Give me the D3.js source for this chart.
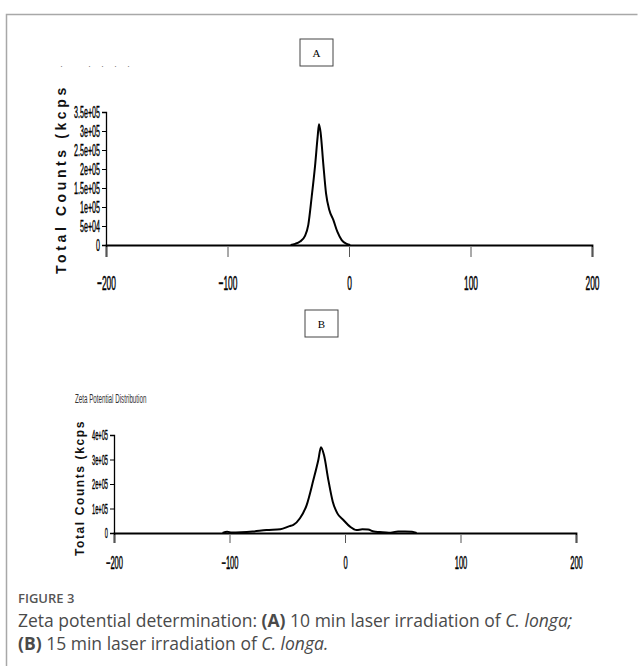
<!DOCTYPE html>
<html><head><meta charset="utf-8">
<script src="https://cdn.jsdelivr.net/npm/d3@7/dist/d3.min.js"></script>
<style>
body{margin:0;background:#fff;}
svg{display:block;}
</style></head>
<body><svg id="c" width="643" height="666"></svg>
<script>
// ---- data ----
const xTicks = [-200, -100, 0, 100, 200];
const yTicksA = [0, 50000, 100000, 150000, 200000, 250000, 300000, 350000];
const yTickLabelsA = ["0","5e+04","1e+05","1.5e+05","2e+05","2.5e+05","3e+05","3.5e+05"];
const yTicksB = [0, 100000, 200000, 300000, 400000];
const yTickLabelsB = ["0","1e+05","2e+05","3e+05","4e+05"];
// Panel A: zeta potential (mV) vs total counts
const zetaA   = [-48, -44.4, -40.3, -36.2, -33.5, -30.7, -28, -25.8, -24.7, -23.3, -21.2, -18.9, -16.2, -12.9, -9.6, -6.0, -1.9, 1];
const countsA = [0, 3000, 9000, 24000, 53000, 127000, 206000, 285000, 318000, 294000, 215000, 136000, 92000, 66000, 35000, 13000, 3000, 0];
// Panel B
const zetaB   = [-106, -102, -98, -90, -80, -68, -56, -48, -44.7, -39, -33.2, -27.4, -23.1, -20.8, -18.2, -14.4, -10.6, -6.6, -1.4, 4.3, 10.1, 15, 20, 25, 30, 38, 46, 52, 58, 62];
const countsB = [0, 5000, 2000, 3000, 6000, 12000, 15000, 28000, 33000, 60000, 114000, 216000, 298000, 350000, 318000, 216000, 128000, 80000, 53000, 26000, 12000, 15000, 14000, 6000, 4000, 1000, 6000, 6000, 5000, 0];
const labelA = "A", labelB = "B";
const yTitle = "Total Counts (kcps";
const titleB = "Zeta Potential Distribution";
const figLabel = "FIGURE 3";

const svg = d3.select("#c");

// frame
svg.append("path").attr("d","M6.5,666 V14.5 H637.5").attr("fill","none").attr("stroke","#a8a8a8").attr("stroke-width",1.5);

function panel(cfg){
  const g = svg.append("g");
  const x = d3.scaleLinear().domain([-200,200]).range([cfg.x0, cfg.x1]);
  const y = d3.scaleLinear().domain([0, cfg.ymax]).range([cfg.y0, cfg.y1]);
  // x axis
  const xa = g.append("g").attr("transform",`translate(0,${cfg.y0})`)
    .call(d3.axisBottom(x).tickValues(xTicks).tickSizeOuter(0).tickSize(cfg.xTickLen).tickPadding(cfg.xPad).tickFormat(d3.format("d")));
  xa.select(".domain").attr("stroke","#000").attr("stroke-width",1.8);
  xa.selectAll(".tick line").attr("stroke","#555").attr("stroke-width",1).attr("y1",2);
  xa.selectAll(".tick text").attr("font-family","Liberation Sans, Arial").attr("font-size",cfg.xfs)
    .attr("fill","#000").attr("stroke","#000").attr("stroke-width",0.5).attr("transform",`scale(${cfg.xsx},1)`);
  // y axis
  const ya = g.append("g").attr("transform",`translate(${cfg.x0},0)`)
    .call(d3.axisLeft(y).tickValues(cfg.yTicks).tickSizeOuter(0).tickSize(4)
      .tickFormat((d,i)=>cfg.yLabels[i]));
  ya.select(".domain").attr("stroke","#000").attr("stroke-width",1.3);
  ya.selectAll(".tick line").attr("stroke","#000");
  ya.selectAll(".tick text").attr("font-family","Liberation Sans, Arial").attr("font-size",cfg.yfs)
    .attr("fill","#000").attr("stroke","#000").attr("stroke-width",0.4)
    .attr("x",-6/cfg.ysx).attr("transform",`scale(${cfg.ysx},1)`);
  // y title
  g.append("text").attr("transform",`translate(${cfg.tx},${cfg.ty}) rotate(-90)`)
    .attr("font-family","Liberation Sans, Arial").attr("font-weight","bold")
    .attr("font-size",cfg.tfs).attr("letter-spacing",cfg.tls).attr("fill","#111").text(yTitle);
  // curve
  const line = d3.line().x(d=>x(d[0])).y(d=>y(d[1])).curve(d3.curveMonotoneX);
  g.append("path").datum(d3.zip(cfg.zeta, cfg.counts)).attr("d", line)
    .attr("fill","none").attr("stroke","#000").attr("stroke-width",2).attr("stroke-linejoin","round");
  // label box
  g.append("rect").attr("x",cfg.bx).attr("y",cfg.by).attr("width",33).attr("height",27)
    .attr("fill","#fff").attr("stroke","#444").attr("stroke-width",1);
  g.append("text").attr("x",cfg.bx+16.5).attr("y",cfg.by+18).attr("text-anchor","middle")
    .attr("font-family","Liberation Serif, Times New Roman").attr("font-size",11).attr("fill","#000").text(cfg.label);
}

panel({x0:106,x1:592,y0:245,y1:112,ymax:350000,yTicks:yTicksA,yLabels:yTickLabelsA,
  xTickLen:12,xPad:18,xfs:21,xsx:0.4,yfs:17,ysx:0.42,
  tx:66,ty:274,tfs:14,tls:3.6,zeta:zetaA,counts:countsA,bx:300,by:39,label:labelA});
panel({x0:114,x1:576,y0:533,y1:435,ymax:400000,yTicks:yTicksB,yLabels:yTickLabelsB,
  xTickLen:10,xPad:13,xfs:18,xsx:0.42,yfs:15,ysx:0.38,
  tx:84,ty:556,tfs:12,tls:1.6,zeta:zetaB,counts:countsB,bx:305,by:310,label:labelB});

// garbled title dots in panel A
svg.append("text").attr("x",60).attr("y",69).attr("font-family","Liberation Sans, Arial")
  .attr("font-size",9).attr("fill","#777").style("white-space","pre").text("·          ·    ·    ·    ·");
// panel B small title
svg.append("text").attr("x",75).attr("y",403).attr("font-family","Liberation Sans, Arial")
  .attr("font-size",13).attr("fill","#333").attr("transform","translate(75,0) scale(0.48,1) translate(-75,0)")
  .text(titleB);

// caption
const cap = svg.append("g").attr("font-family","Open Sans, Noto Sans, sans-serif");
cap.append("text").attr("x",18).attr("y",603).attr("font-size",13).attr("font-weight",600).attr("fill","#555").text(figLabel);
const l1 = cap.append("text").attr("x",18).attr("y",627).attr("font-size",17.5).attr("fill","#4a4a4a");
l1.append("tspan").text("Zeta potential determination: ");
l1.append("tspan").attr("font-weight","bold").text("(A)");
l1.append("tspan").text(" 10 min laser irradiation of ");
l1.append("tspan").attr("font-style","italic").text("C. longa;");
const l2 = cap.append("text").attr("x",18).attr("y",650).attr("font-size",17.5).attr("fill","#4a4a4a");
l2.append("tspan").attr("font-weight","bold").text("(B)");
l2.append("tspan").text(" 15 min laser irradiation of ");
l2.append("tspan").attr("font-style","italic").text("C. longa.");
</script></body></html>
